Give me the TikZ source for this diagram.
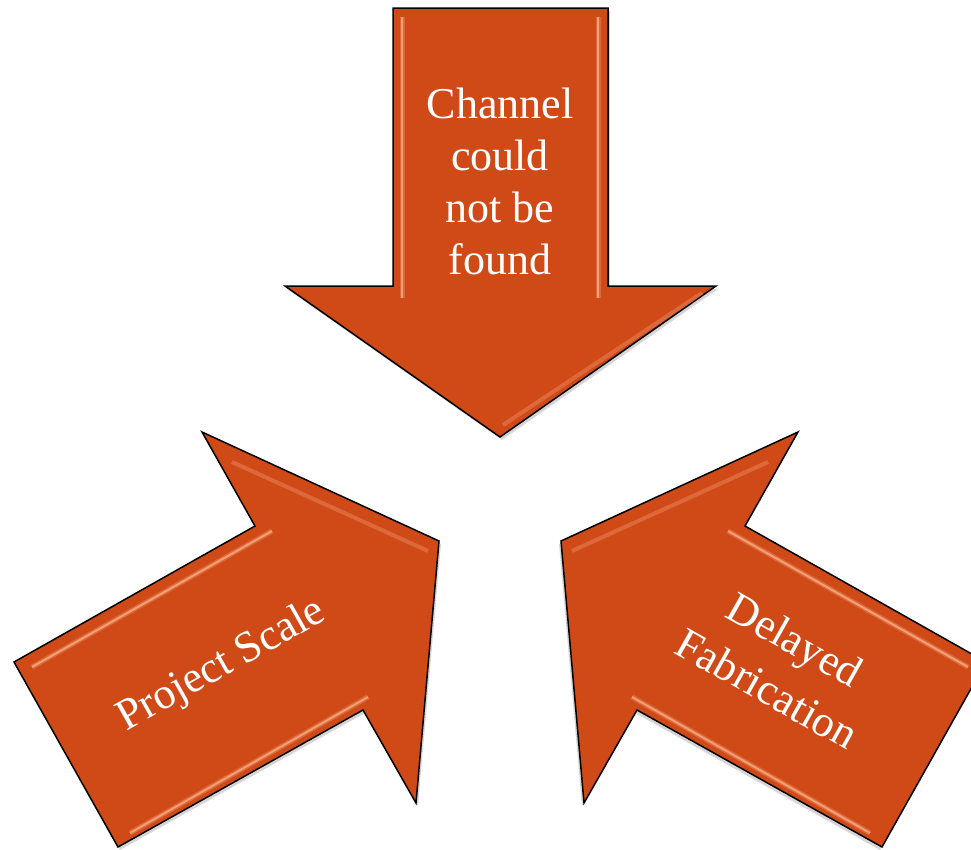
\documentclass[tikz,border=0pt]{standalone}
\usepackage{fontspec}
\setmainfont{Liberation Serif}
\definecolor{arrowfill}{RGB}{208,74,24}
\definecolor{bevel}{RGB}{246,164,124}
\tikzset{
  arrowshape/.style={fill=arrowfill, draw=black, line width=1.5pt, line join=miter},
  shadowshape/.style={fill=black, opacity=0.16},
  bevelline/.style={draw=bevel, line width=5pt, opacity=0.35,
    postaction={draw=bevel, line width=2pt, opacity=0.9}},
  softbevel/.style={draw=bevel, line width=4pt, opacity=0.35},
  arrowtext/.style={text=white, font=\fontsize{44}{56}\selectfont, align=center, inner sep=0pt}
}
\begin{document}
\begin{tikzpicture}[x=1pt,y=-1pt]
\useasboundingbox (0,0) rectangle (971,849);
\clip (0,0) rectangle (971,849);

% ---- top arrow ----
\path[shadowshape] (395,11) -- (610,11) -- (610,289) -- (718,289) -- (502,440) -- (287,289) -- (395,289) -- cycle;
\path[arrowshape] (393,8) -- (608,8) -- (608,286) -- (716,286) -- (500,437) -- (285,286) -- (393,286) -- cycle;
\draw[bevelline] (402,17) -- (402,298);
\draw[bevelline] (598,17) -- (598,298);
\draw[softbevel] (503,425) -- (702,293);

% ---- left arrow and its mirror ----
\foreach \m/\sh in {1/0,-1/1000}{
\begin{scope}[shift={(\sh,0)}, xscale=\m]
\path[shadowshape] (16,665) -- (257,529) -- (204,435) -- (441,544) -- (418,806) -- (365,713) -- (120,850) -- cycle;
\path[arrowshape] (14,662) -- (255,526) -- (202,432) -- (439,541) -- (416,803) -- (363,710) -- (118,847) -- cycle;
\draw[bevelline] (32,667) -- (272,531);
\draw[bevelline] (130,833) -- (368,697);
\draw[softbevel] (232,462) -- (428,551);
\end{scope}
}

% ---- texts ----
\node[arrowtext, font=\fontsize{44}{52}\selectfont] (t1) at (500,181) {Channel\\could\\not be\\found};
\node[arrowtext, rotate=29.4] (t2) at (222,666) {Project Scale};
\node[arrowtext, rotate=-29.4] (t3) at (781,664) {Delayed\\Fabrication};
\end{tikzpicture}
\end{document}
